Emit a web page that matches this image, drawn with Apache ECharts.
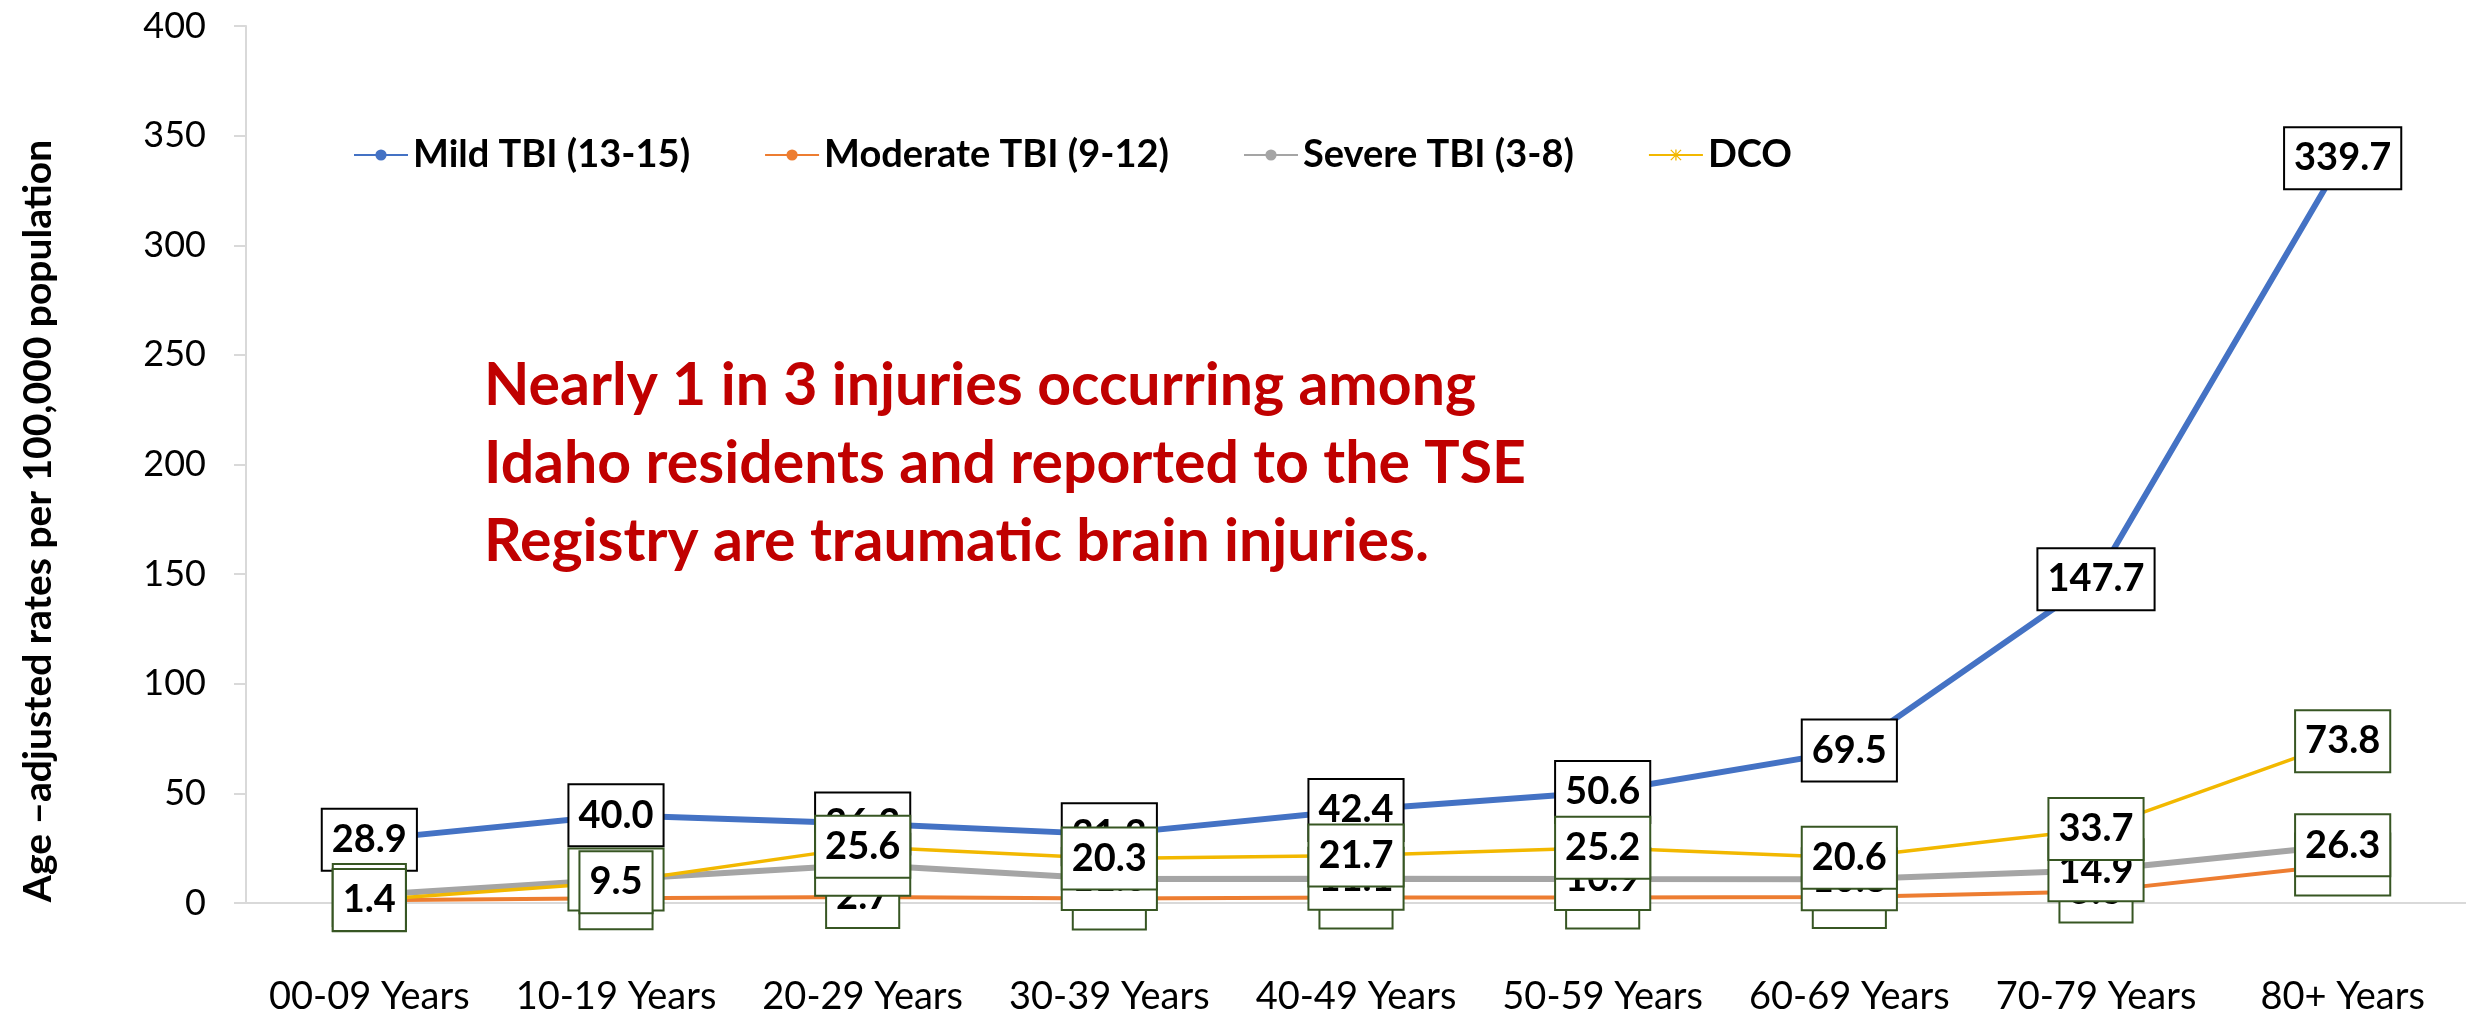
<!DOCTYPE html>
<html lang="en" style="height: 100%">

<head>
    <meta charset="utf-8" />
    <script src="https://cdn.jsdelivr.net/npm/echarts@6/dist/echarts.min.js"></script>
</head>

<body style="height: 100%; margin: 0; background: #fff">
    <div id="container" style="width: 2466px;height: 1017px;"></div>
    <script type="text/javascript">
        // chart data
        const categories = ['00-09 Years', '10-19 Years', '20-29 Years', '30-39 Years', '40-49 Years',
            '50-59 Years', '60-69 Years', '70-79 Years', '80+ Years'];
        const mild = [28.9, 40.0, 36.3, 31.3, 42.4, 50.6, 69.5, 147.7, 339.7];
        const moderate = [1.2, 2.2, 2.7, 2.1, 2.5, 2.5, 2.7, 5.3, 17.6];
        const severe = [3.6, 10.7, 17.5, 11.0, 11.1, 10.9, 10.8, 14.9, 26.3];
        const dco = [1.4, 9.5, 25.6, 20.3, 21.7, 25.2, 20.6, 33.7, 73.8];
        const seriesNames = ['Mild TBI (13-15)', 'Moderate TBI (9-12)', 'Severe TBI (3-8)', 'DCO'];
        const yTicks = { min: 0, max: 400, interval: 50 };
        const note = 'Nearly 1 in 3 injuries occurring among\nIdaho residents and reported to the TSE\nRegistry are traumatic brain injuries.';
        const yTitle = 'Age \u2013adjusted rates per 100,000 population';

        const colors = ['#4472C4', '#ED7D31', '#A5A5A5', '#F2B800'];
        const FONT = 'Lato, Carlito, sans-serif';
        const starPath = 'path://M4.4,0H5.6V10H4.4Z M0,0.8L0.8,0L10,9.2L9.2,10Z M9.2,0L10,0.8L0.8,10L0,9.2Z';

        var dom = document.getElementById('container');
        var myChart = echarts.init(dom, null, { renderer: 'canvas' });

        function lineSeries(i, data, width, symbol) {
            return {
                name: seriesNames[i],
                type: 'line',
                data: data,
                color: colors[i],
                symbol: symbol,
                symbolSize: 11,
                z: 2,
                lineStyle: { width: width, color: colors[i] },
                emphasis: { disabled: true }
            };
        }

        // boxed value labels, drawn above all lines (later series on top)
        function labelSeries(i, data, border) {
            return {
                name: seriesNames[i] + ' labels',
                type: 'scatter',
                data: data,
                symbolSize: 1,
                z: 10 + i,
                silent: true,
                itemStyle: { opacity: 1, color: 'rgba(0,0,0,0)' },
                label: {
                    show: true,
                    position: 'inside',
                    formatter: function (p) { return p.value.toFixed(1); },
                    color: '#000',
                    opacity: 1,
                    fontFamily: FONT,
                    fontWeight: 'bold',
                    fontSize: 38,
                    lineHeight: 46,
                    backgroundColor: '#fff',
                    borderColor: border,
                    borderWidth: 2,
                    padding: [7, 9, 7, 9]
                },
                emphasis: { disabled: true }
            };
        }

        var option = {
            backgroundColor: '#fff',
            animation: false,
            grid: { left: 246, right: 0, top: 26, bottom: 114, containLabel: false },
            legend: {
                data: seriesNames,
                left: 348,
                top: 131,
                itemWidth: 54,
                itemHeight: 14,
                itemGap: 74,
                textStyle: { fontFamily: FONT, fontWeight: 'bold', fontSize: 38, color: '#000' }
            },
            xAxis: {
                type: 'category',
                data: categories,
                boundaryGap: true,
                axisLine: { lineStyle: { color: '#D9D9D9', width: 2 } },
                axisTick: { show: false },
                axisLabel: { interval: 0, margin: 75, fontFamily: FONT, fontSize: 38, color: '#000' }
            },
            yAxis: {
                type: 'value',
                min: yTicks.min,
                max: yTicks.max,
                interval: yTicks.interval,
                splitLine: { show: false },
                axisLine: { show: true, lineStyle: { color: '#D9D9D9', width: 2 } },
                axisTick: { show: true, length: 12, lineStyle: { color: '#D9D9D9', width: 2 } },
                axisLabel: { margin: 40, fontFamily: FONT, fontSize: 36, color: '#000' }
            },
            graphic: [
                {
                    type: 'text',
                    x: 38,
                    y: 521,
                    rotation: Math.PI / 2,
                    style: {
                        text: yTitle,
                        fontFamily: FONT,
                        fontWeight: 'bold',
                        fontSize: 39,
                        fill: '#000',
                        align: 'center',
                        verticalAlign: 'middle'
                    }
                },
                {
                    type: 'text',
                    left: 484,
                    top: 347,
                    style: {
                        text: note,
                        fontFamily: FONT,
                        fontWeight: 'bold',
                        fontSize: 59,
                        lineHeight: 78,
                        fill: '#C00000'
                    }
                }
            ],
            series: [
                lineSeries(0, mild, 6, 'circle'),
                lineSeries(1, moderate, 4, 'circle'),
                lineSeries(2, severe, 6, 'circle'),
                lineSeries(3, dco, 3.5, starPath),
                labelSeries(0, mild, '#000'),
                labelSeries(1, moderate, '#375623'),
                labelSeries(2, severe, '#375623'),
                labelSeries(3, dco, '#375623')
            ]
        };

        if (option && typeof option === 'object') {
            myChart.setOption(option);
        }

        window.addEventListener('resize', myChart.resize);
    </script>
</body>

</html>
